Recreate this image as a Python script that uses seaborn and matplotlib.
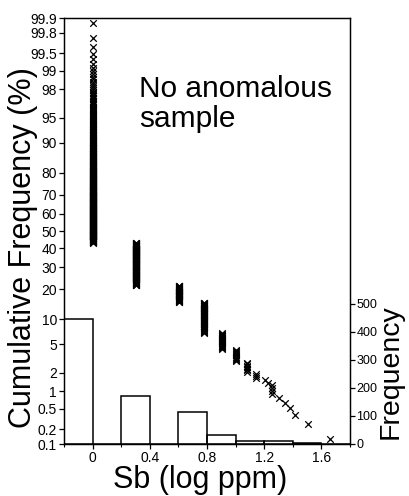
import numpy as np
import pandas as pd
import matplotlib
matplotlib.use("Agg")
import matplotlib.pyplot as plt
import seaborn as sns
from statistics import NormalDist

# ---- data ----
sb_log = [0.0, 0.301, 0.602, 0.778, 0.903, 1.0, 1.079, 1.146, 1.204, 1.230,
          1.255, 1.301, 1.342, 1.380, 1.415, 1.505, 1.663]
sample_counts = [447, 171, 51, 64, 21, 11, 7, 3, 1, 1, 4, 1, 1, 1, 1, 1, 1]
bin_edges = [-0.2, 0.0, 0.2, 0.4, 0.6, 0.8, 1.0, 1.2, 1.4, 1.6, 1.8]
x_ticks = [0, 0.4, 0.8, 1.2, 1.6]
x_tick_labels = ["0", "0.4", "0.8", "1.2", "1.6"]
pct_ticks = [0.1, 0.2, 0.5, 1, 2, 5, 10, 20, 30, 40, 50, 60, 70, 80, 90, 95,
             98, 99, 99.5, 99.8, 99.9]
pct_tick_labels = ["0.1", "0.2", "0.5", "1", "2", "5", "10", "20", "30", "40",
                   "50", "60", "70", "80", "90", "95", "98", "99", "99.5",
                   "99.8", "99.9"]
freq_ticks = [0, 100, 200, 300, 400, 500]
annotation_lines = ["No anomalous", "sample"]

# samples and cumulative frequency (percent of samples >= value)
samples = np.sort(np.repeat(sb_log, sample_counts))[::-1]
n = len(samples)
ranks = np.arange(1, n + 1)
df = pd.DataFrame({"sb": samples, "cum": ranks / (n + 1) * 100})

sns.set_style("ticks")
plt.rcParams["font.family"] = ["Liberation Sans", "DejaVu Sans"]
plt.rcParams["axes.linewidth"] = 0.9
for key in ("text.color", "axes.labelcolor", "xtick.color", "ytick.color",
            "axes.edgecolor"):
    plt.rcParams[key] = "black"

nd = NormalDist()
_ppf = np.vectorize(nd.inv_cdf, otypes=[float])
_cdf = np.vectorize(nd.cdf, otypes=[float])


def fwd(p):
    p = np.clip(np.asarray(p, dtype=float) / 100.0, 1e-9, 1 - 1e-9)
    return _ppf(p)


def inv(z):
    return _cdf(np.asarray(z, dtype=float)) * 100.0


fig = plt.figure(figsize=(4.09, 4.96), dpi=100)
ax = fig.add_axes([64 / 409, 52 / 496, 286 / 409, 426 / 496])
ax2 = ax.twinx()

# histogram (right axis)
sns.histplot(x=samples, bins=np.array(bin_edges) + 1e-9, fill=False,
             color="black", linewidth=1.1, ax=ax2, zorder=2)

# cumulative frequency (left axis, probability scale)
ax.set_yscale("function", functions=(fwd, inv))
sns.scatterplot(data=df, x="sb", y="cum", marker="x", color="black", s=22,
                linewidth=0.9, ax=ax, zorder=3, legend=False)

ax.set_xlim(-0.2, 1.8)
ax.set_ylim(0.1, 99.9)
ax.set_yticks(pct_ticks)
ax.set_yticklabels(pct_tick_labels)
ax.yaxis.set_minor_locator(matplotlib.ticker.NullLocator())
ax.set_xticks(x_ticks)
ax.set_xticklabels(x_tick_labels)
ax.set_xticks(bin_edges, minor=True)

ax2.set_ylim(0, 1520)
ax2.set_yticks(freq_ticks)
ax2.set_xlim(-0.2, 1.8)

for a in (ax, ax2):
    a.tick_params(axis="both", which="major", direction="out", length=3.5,
                  width=0.9, labelsize=10, pad=1.5, colors="black")
    a.tick_params(axis="both", which="minor", direction="out", length=2,
                  width=0.8, colors="black")
    for s in a.spines.values():
        s.set_visible(True)
        s.set_color("black")
        s.set_linewidth(0.9)
ax2.tick_params(axis="y", which="major", labelsize=9, pad=1)

ax.set_xlabel("Sb (log ppm)", fontsize=22, color="black")
ax.xaxis.set_label_coords(0.476, -0.049)
ax.set_ylabel("Cumulative Frequency (%)", fontsize=22, color="black")
ax.yaxis.set_label_coords(-0.092, 0.46)
ax2.set_ylabel("Frequency", fontsize=20.5, rotation=90, color="black")
ax2.yaxis.set_label_coords(1.098, 0.17)

ax.text(0.262, 0.815, annotation_lines[0], transform=ax.transAxes,
        fontsize=21.5, va="baseline", ha="left", color="black")
ax.text(0.262, 0.745, annotation_lines[1], transform=ax.transAxes,
        fontsize=21.5, va="baseline", ha="left", color="black")

ax.set_zorder(ax2.get_zorder() + 1)
ax.patch.set_visible(False)

fig.savefig("out.png", dpi=100)
